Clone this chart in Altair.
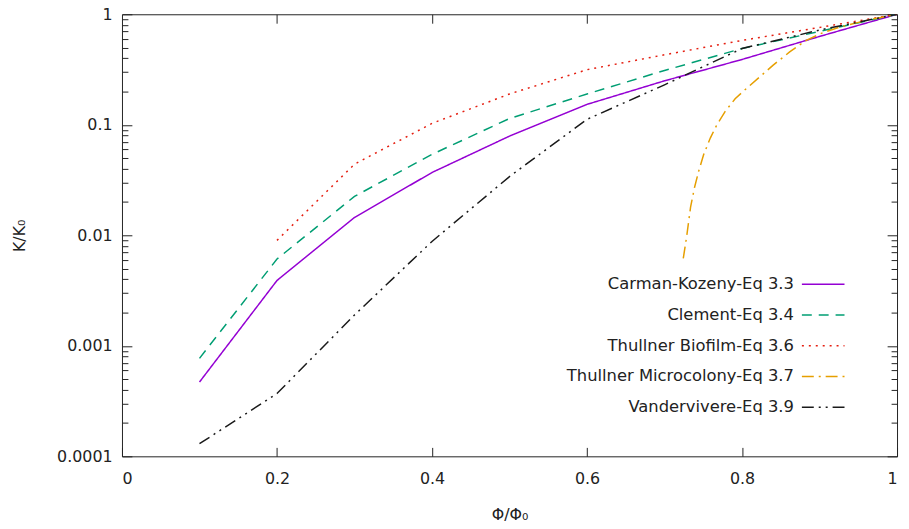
import altair as alt
import pandas as pd

# ---------------- data ----------------
series_names = [
    "Carman-Kozeny-Eq 3.3",
    "Clement-Eq 3.4",
    "Thullner Biofilm-Eq 3.6",
    "Thullner Microcolony-Eq 3.7",
    "Vandervivere-Eq 3.9",
]
series_colors = ["#9400d3", "#009e73", "#e51e10", "#e69f00", "#1a1a1a"]
series_dashes = [[1, 0], [10, 7], [2, 5], [12, 5, 2, 5], [12, 5, 2, 5, 2, 5]]

phi_ck = [0.1, 0.2, 0.3, 0.4, 0.5, 0.6, 0.7, 0.8, 0.9, 1.0]
k_ck = [4.7e-4, 0.0039, 0.0145, 0.037, 0.079, 0.153, 0.25, 0.39, 0.63, 1.0]

phi_clement = [0.1, 0.2, 0.3, 0.4, 0.5, 0.6, 0.7, 0.8, 0.9, 1.0]
k_clement = [7.7e-4, 0.0061, 0.0225, 0.054, 0.114, 0.19, 0.31, 0.49, 0.70, 1.0]

phi_biofilm = [0.2, 0.3, 0.4, 0.5, 0.6, 0.7, 0.8, 0.9, 1.0]
k_biofilm = [0.009, 0.044, 0.103, 0.19, 0.315, 0.43, 0.58, 0.76, 1.0]

phi_micro = [0.7242, 0.7285, 0.7336, 0.7387, 0.7442, 0.7506, 0.7592, 0.7677,
             0.7783, 0.7911, 0.8060, 0.8231, 0.8402, 0.8615, 0.8828, 0.9041,
             0.9254, 0.9595, 1.0]
k_micro = [0.00618, 0.00966, 0.01795, 0.0271, 0.0383, 0.0540, 0.0762, 0.1005,
           0.132, 0.172, 0.214, 0.272, 0.347, 0.456, 0.581, 0.680,
           0.764, 0.877, 1.0]

phi_vdv = [0.1, 0.2, 0.3, 0.4, 0.5, 0.6, 0.7, 0.8, 0.9, 1.0]
k_vdv = [1.3e-4, 3.7e-4, 0.0019, 0.0088, 0.034, 0.112, 0.23, 0.49, 0.72, 1.0]

x_tick_values = [0, 0.2, 0.4, 0.6, 0.8, 1]
x_inner_ticks = [0.2, 0.4, 0.6, 0.8]
y_major = [0.0001, 0.001, 0.01, 0.1, 1]
y_minor = [m * 10.0 ** e for e in range(-4, 0) for m in range(2, 10)]
y_tick_values = sorted(y_major + y_minor)

# ---------------- table ----------------
rows = []
for name, xs, ys in zip(
    series_names,
    [phi_ck, phi_clement, phi_biofilm, phi_micro, phi_vdv],
    [k_ck, k_clement, k_biofilm, k_micro, k_vdv],
):
    for xv, yv in zip(xs, ys):
        rows.append({"series": name, "phi": xv, "k": yv})
df = pd.DataFrame(rows)

W, H = 782, 446
FONT = "DejaVu Sans"
INK = "#222222"
XT, YT = 9, 10  # inward tick lengths

xscale = alt.Scale(domain=[0, 1], nice=False, zero=False)
yscale = alt.Scale(type="log", domain=[0.0001, 1], nice=False)

is_major = "abs(log(datum.value)/LN10 - round(log(datum.value)/LN10)) < 0.001"
# ticks are drawn from the shifted axis line towards the frame; minor ones show only the last 6 px
minor_dash = {"condition": {"test": is_major, "value": [10, 1]}, "value": [0, 4, 6, 1000]}

legend = alt.Legend(
    title=None,
    orient="none",
    legendX=685,
    legendY=250,
    padding=0,
    labelAlign="right",
    labelOffset={"expr": "-52"},
    symbolOffset=0,
    labelLimit=400,
    symbolType="stroke",
    symbolSize=1849,
    symbolStrokeWidth=1.5,
    rowPadding=0,
    labelFontSize=16.5,
)

lines = alt.Chart(df).mark_line(strokeWidth=1.5, clip=True).encode(
    x=alt.X(
        "phi:Q",
        scale=xscale,
        axis=alt.Axis(
            orient="bottom", offset=-XT, values=x_tick_values, format="~g",
            ticks=True, tickSize=XT, tickColor=INK, tickWidth=1,
            labelPadding=14, title="Φ/Φ₀", titleX=W / 2, titleY=59 + XT,
            titleBaseline="middle",
        ),
    ),
    y=alt.Y(
        "k:Q",
        scale=yscale,
        axis=alt.Axis(
            orient="left", offset=-YT, values=y_tick_values, ticks=True,
            tickSize=YT, tickDash=minor_dash, tickColor=INK, tickWidth=1,
            labelExpr=f"{is_major} ? format(datum.value, '~g') : ''",
            labelPadding=10, title="K/K₀", titleX=-103 - YT, titleY=H / 2,
            titleAngle=270, titleAlign="center", titleBaseline="middle",
        ),
    ),
    color=alt.Color("series:N", scale=alt.Scale(domain=series_names, range=series_colors), legend=legend),
    strokeDash=alt.StrokeDash("series:N", scale=alt.Scale(domain=series_names, range=series_dashes), legend=legend),
)

mirror = alt.Chart(df).mark_point(opacity=0, size=1).encode(
    x=alt.X(
        "phi:Q", scale=xscale,
        axis=alt.Axis(
            orient="top", offset=-XT, values=x_inner_ticks, labels=False, domain=False,
            ticks=True, tickSize=XT, tickColor=INK, tickWidth=1, title=None,
        ),
    ),
    y=alt.Y(
        "k:Q", scale=yscale,
        axis=alt.Axis(
            orient="right", offset=-YT, values=y_tick_values, labels=False, domain=False,
            ticks=True, tickSize=YT, tickDash=minor_dash,
            tickColor=INK, tickWidth=1, title=None,
        ),
    ),
)

chart = (
    alt.layer(lines, mirror)
    .resolve_axis(x="independent", y="independent")
    .properties(
        width=W,
        height=H,
        autosize=alt.AutoSizeParams(type="none"),
        padding={"left": 115, "top": 4, "right": 4, "bottom": 71},
    )
    .configure_view(stroke=INK, strokeWidth=1)
    .configure_axis(
        labelFont=FONT, labelFontSize=16, labelColor=INK,
        titleFont=FONT, titleFontSize=16, titleFontWeight="normal", titleColor=INK,
        domain=False, grid=False,
    )
    .configure_legend(labelFont=FONT, labelColor=INK)
)

chart.save("out.html", embed_options={"renderer": "svg", "actions": False})
